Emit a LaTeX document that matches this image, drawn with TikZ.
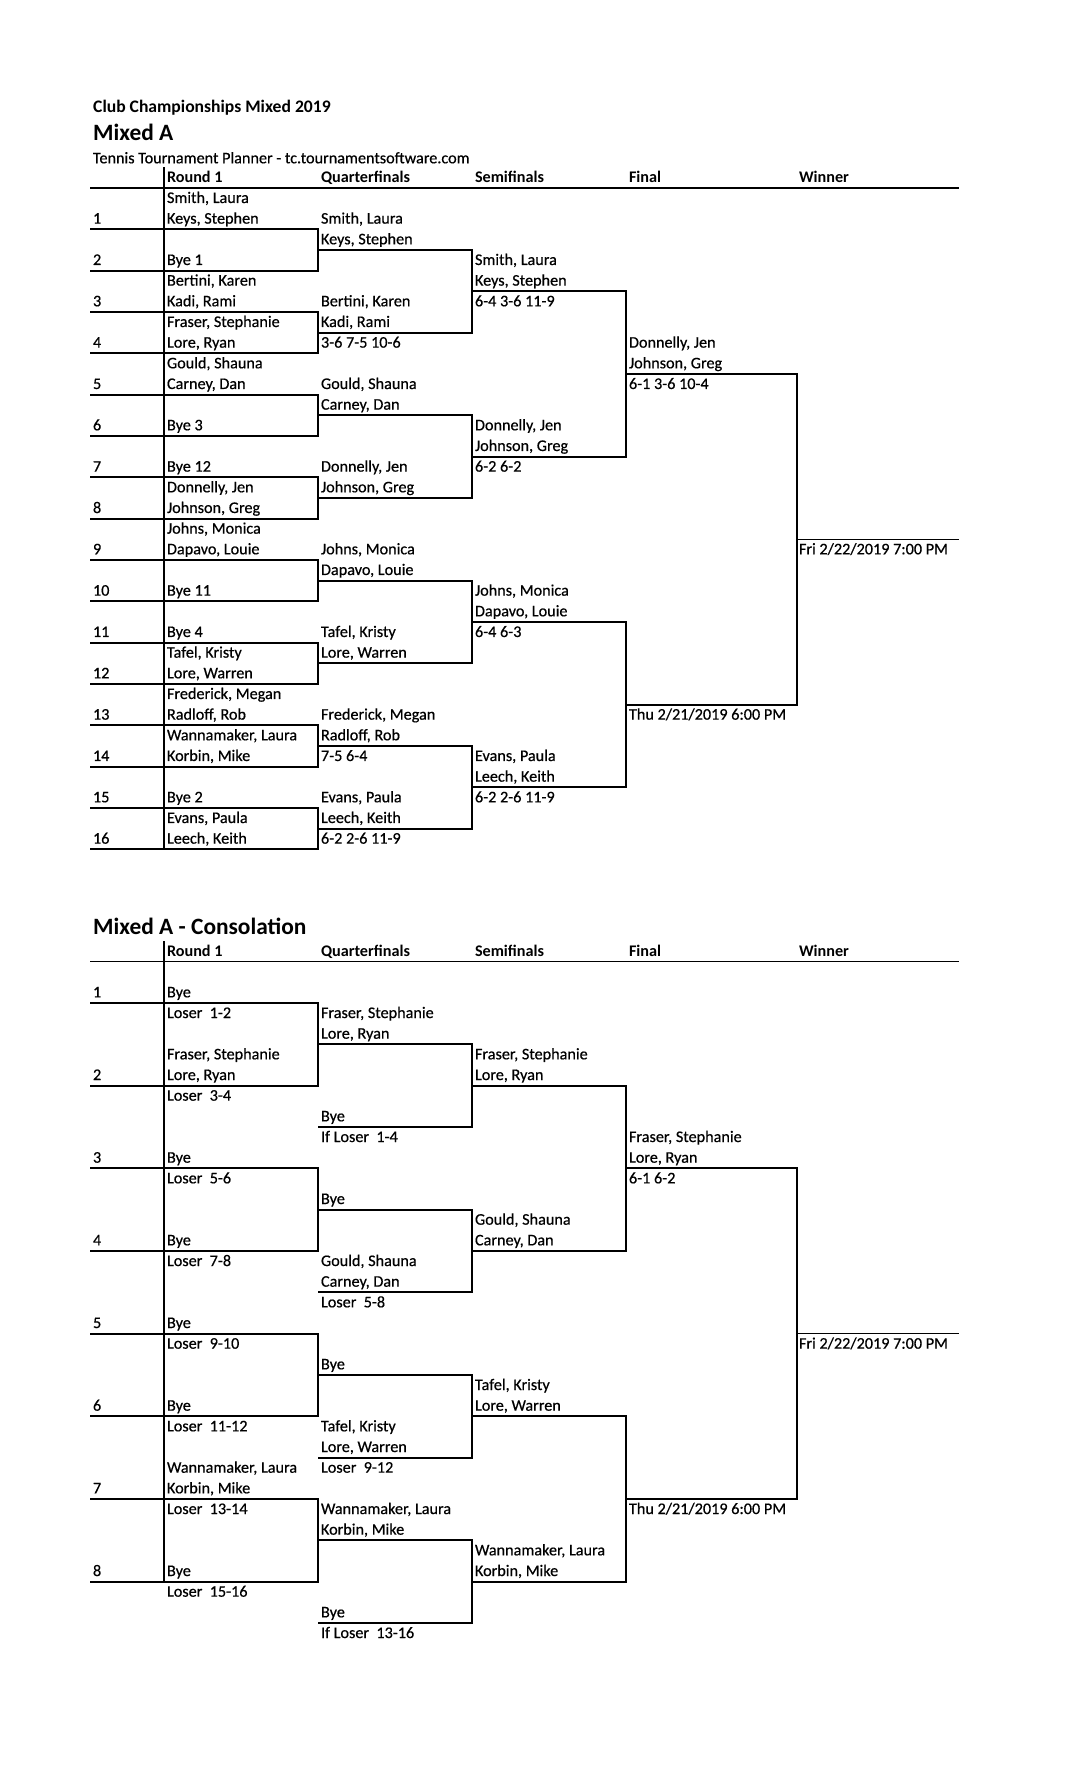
\documentclass[tikz,border=0pt]{standalone}
\usepackage{fontspec}
\setmainfont{Carlito}
\newfontface\nmface{Carlito}[FakeBold=0.5]
\newcounter{nd}
\def\secbase{188}
\newcommand{\tx}[3]{\stepcounter{nd}\node[txt] (n\arabic{nd}) at (#1,{\secbase+20.667*(#2)-5.7}) {#3};}
\newcommand{\hx}[2]{\stepcounter{nd}\node[hd] (n\arabic{nd}) at (#1,{\secbase-5.3}) {#2};}
\newcommand{\Y}[1]{\secbase+20.667*(#1)}
\begin{document}
\begin{tikzpicture}[x=1pt,y=-1pt,
  txt/.style={anchor=base west, inner sep=0pt, outer sep=0pt, font=\nmface\fontsize{16.2}{18}\selectfont},
  hd/.style={anchor=base west, inner sep=0pt, outer sep=0pt, font=\fontsize{16.2}{18}\selectfont\bfseries},
  br/.style={line width=1.8pt, line join=miter},
  thn/.style={line width=1.4pt}]
\fill[white] (0,0) rectangle (1088,1792);
\useasboundingbox (0,0) rectangle (1088,1792);

% ---------- titles ----------
\node[anchor=base west, inner sep=0pt, font=\fontsize{17.6}{20}\selectfont\bfseries] (title) at (93,112.5) {Club Championships Mixed 2019};
\node[anchor=base west, inner sep=0pt, font=\fontsize{23.4}{26}\selectfont\bfseries] (mixa) at (93,140) {Mixed A};
\node[txt] (planner) at (93,163.3) {Tennis Tournament Planner - tc.tournamentsoftware.com};

% ================= MAIN DRAW =================
\def\secbase{188}
\hx{167}{Round 1}
\hx{321}{Quarterfinals}
\hx{475}{Semifinals}
\hx{629}{Final}
\hx{799}{Winner}
\draw[thn] (90,{\Y{0}}) -- (959,{\Y{0}});
\draw[thn] (164,{\Y{-1}}) -- (164,{\Y{32}});

% round 1 pairs
\foreach \p in {1,...,8}{
  \draw[br] (90,{\Y{4*\p-2}}) -- (318,{\Y{4*\p-2}}) -- (318,{\Y{4*\p}}) -- (90,{\Y{4*\p}});
}
% quarterfinal pairs
\foreach \s in {1,...,4}{
  \draw[br] (318,{\Y{8*\s-5}}) -- (472,{\Y{8*\s-5}}) -- (472,{\Y{8*\s-1}}) -- (318,{\Y{8*\s-1}});
}
% semifinal pairs
\foreach \t in {1,2}{
  \draw[br] (472,{\Y{16*\t-11}}) -- (626,{\Y{16*\t-11}}) -- (626,{\Y{16*\t-3}}) -- (472,{\Y{16*\t-3}});
}
% final
\draw[br] (626,{\Y{9}}) -- (797,{\Y{9}}) -- (797,{\Y{25}}) -- (626,{\Y{25}});
\draw[thn] (797,{\Y{17}}) -- (959,{\Y{17}});

% numbers
\foreach \i in {1,...,16}{ \tx{93}{2*\i}{\i} }

% round 1
\tx{167}{1}{Smith, Laura}
\tx{167}{2}{Keys, Stephen}
\tx{167}{4}{Bye 1}
\tx{167}{5}{Bertini, Karen}
\tx{167}{6}{Kadi, Rami}
\tx{167}{7}{Fraser, Stephanie}
\tx{167}{8}{Lore, Ryan}
\tx{167}{9}{Gould, Shauna}
\tx{167}{10}{Carney, Dan}
\tx{167}{12}{Bye 3}
\tx{167}{14}{Bye 12}
\tx{167}{15}{Donnelly, Jen}
\tx{167}{16}{Johnson, Greg}
\tx{167}{17}{Johns, Monica}
\tx{167}{18}{Dapavo, Louie}
\tx{167}{20}{Bye 11}
\tx{167}{22}{Bye 4}
\tx{167}{23}{Tafel, Kristy}
\tx{167}{24}{Lore, Warren}
\tx{167}{25}{Frederick, Megan}
\tx{167}{26}{Radloff, Rob}
\tx{167}{27}{Wannamaker, Laura}
\tx{167}{28}{Korbin, Mike}
\tx{167}{30}{Bye 2}
\tx{167}{31}{Evans, Paula}
\tx{167}{32}{Leech, Keith}

% quarterfinals
\tx{321}{2}{Smith, Laura}
\tx{321}{3}{Keys, Stephen}
\tx{321}{6}{Bertini, Karen}
\tx{321}{7}{Kadi, Rami}
\tx{321}{8}{3-6 7-5 10-6}
\tx{321}{10}{Gould, Shauna}
\tx{321}{11}{Carney, Dan}
\tx{321}{14}{Donnelly, Jen}
\tx{321}{15}{Johnson, Greg}
\tx{321}{18}{Johns, Monica}
\tx{321}{19}{Dapavo, Louie}
\tx{321}{22}{Tafel, Kristy}
\tx{321}{23}{Lore, Warren}
\tx{321}{26}{Frederick, Megan}
\tx{321}{27}{Radloff, Rob}
\tx{321}{28}{7-5 6-4}
\tx{321}{30}{Evans, Paula}
\tx{321}{31}{Leech, Keith}
\tx{321}{32}{6-2 2-6 11-9}

% semifinals
\tx{475}{4}{Smith, Laura}
\tx{475}{5}{Keys, Stephen}
\tx{475}{6}{6-4 3-6 11-9}
\tx{475}{12}{Donnelly, Jen}
\tx{475}{13}{Johnson, Greg}
\tx{475}{14}{6-2 6-2}
\tx{475}{20}{Johns, Monica}
\tx{475}{21}{Dapavo, Louie}
\tx{475}{22}{6-4 6-3}
\tx{475}{28}{Evans, Paula}
\tx{475}{29}{Leech, Keith}
\tx{475}{30}{6-2 2-6 11-9}

% final
\tx{629}{8}{Donnelly, Jen}
\tx{629}{9}{Johnson, Greg}
\tx{629}{10}{6-1 3-6 10-4}
\tx{629}{26}{Thu 2/21/2019 6:00 PM}
% winner
\tx{799}{18}{Fri 2/22/2019 7:00 PM}

% ================= CONSOLATION =================
\node[anchor=base west, inner sep=0pt, font=\fontsize{23.4}{26}\selectfont\bfseries] (cons) at (93,934.3) {Mixed A - Consolation};
\def\secbase{961.7}
\hx{167}{Round 1}
\hx{321}{Quarterfinals}
\hx{475}{Semifinals}
\hx{629}{Final}
\hx{799}{Winner}
\draw[thn] (90,{\Y{0}}) -- (959,{\Y{0}});
\draw[thn] (164,{\Y{-1}}) -- (164,{\Y{30}});

\foreach \q in {1,...,4}{
  \draw[br] (90,{\Y{8*\q-6}}) -- (318,{\Y{8*\q-6}}) -- (318,{\Y{8*\q-2}}) -- (90,{\Y{8*\q-2}});
  \draw[br] (318,{\Y{8*\q-4}}) -- (472,{\Y{8*\q-4}}) -- (472,{\Y{8*\q}}) -- (318,{\Y{8*\q}});
}
\draw[br] (472,{\Y{6}}) -- (626,{\Y{6}}) -- (626,{\Y{14}}) -- (472,{\Y{14}});
\draw[br] (472,{\Y{22}}) -- (626,{\Y{22}}) -- (626,{\Y{30}}) -- (472,{\Y{30}});
\draw[br] (626,{\Y{10}}) -- (797,{\Y{10}}) -- (797,{\Y{26}}) -- (626,{\Y{26}});
\draw[thn] (797,{\Y{18}}) -- (959,{\Y{18}});

\foreach \i in {1,...,8}{ \tx{93}{4*\i-2}{\i} }

% round 1
\tx{167}{2}{Bye}
\tx{167}{3}{Loser~~1-2}
\tx{167}{5}{Fraser, Stephanie}
\tx{167}{6}{Lore, Ryan}
\tx{167}{7}{Loser~~3-4}
\tx{167}{10}{Bye}
\tx{167}{11}{Loser~~5-6}
\tx{167}{14}{Bye}
\tx{167}{15}{Loser~~7-8}
\tx{167}{18}{Bye}
\tx{167}{19}{Loser~~9-10}
\tx{167}{22}{Bye}
\tx{167}{23}{Loser~~11-12}
\tx{167}{25}{Wannamaker, Laura}
\tx{167}{26}{Korbin, Mike}
\tx{167}{27}{Loser~~13-14}
\tx{167}{30}{Bye}
\tx{167}{31}{Loser~~15-16}

% quarterfinals
\tx{321}{3}{Fraser, Stephanie}
\tx{321}{4}{Lore, Ryan}
\tx{321}{8}{Bye}
\tx{321}{9}{If Loser~~1-4}
\tx{321}{12}{Bye}
\tx{321}{15}{Gould, Shauna}
\tx{321}{16}{Carney, Dan}
\tx{321}{17}{Loser~~5-8}
\tx{321}{20}{Bye}
\tx{321}{23}{Tafel, Kristy}
\tx{321}{24}{Lore, Warren}
\tx{321}{25}{Loser~~9-12}
\tx{321}{27}{Wannamaker, Laura}
\tx{321}{28}{Korbin, Mike}
\tx{321}{32}{Bye}
\tx{321}{33}{If Loser~~13-16}

% semifinals
\tx{475}{5}{Fraser, Stephanie}
\tx{475}{6}{Lore, Ryan}
\tx{475}{13}{Gould, Shauna}
\tx{475}{14}{Carney, Dan}
\tx{475}{21}{Tafel, Kristy}
\tx{475}{22}{Lore, Warren}
\tx{475}{29}{Wannamaker, Laura}
\tx{475}{30}{Korbin, Mike}

% final
\tx{629}{9}{Fraser, Stephanie}
\tx{629}{10}{Lore, Ryan}
\tx{629}{11}{6-1 6-2}
\tx{629}{27}{Thu 2/21/2019 6:00 PM}
% winner
\tx{799}{19}{Fri 2/22/2019 7:00 PM}
\end{tikzpicture}
\end{document}
